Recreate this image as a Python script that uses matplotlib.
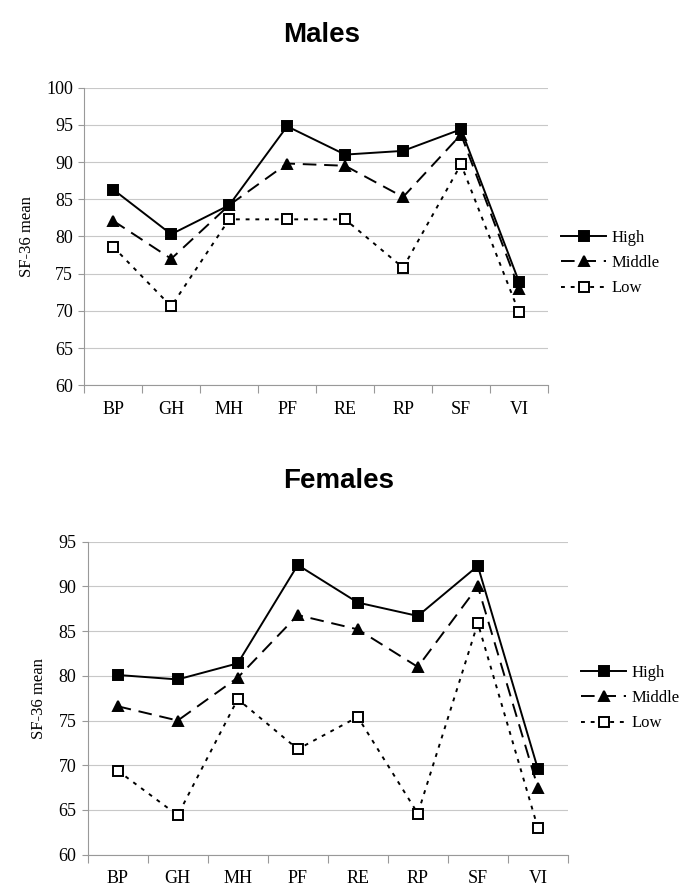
import matplotlib.pyplot as plt

categories = ['BP', 'GH', 'MH', 'PF', 'RE', 'RP', 'SF', 'VI']
groups = ['High', 'Middle', 'Low']

males_high = [86.3, 80.3, 84.2, 94.8, 91.0, 91.5, 94.4, 73.9]
males_middle = [82.1, 77.0, 84.2, 89.8, 89.5, 85.3, 93.7, 73.0]
males_low = [78.6, 70.6, 82.3, 82.3, 82.3, 75.8, 89.7, 69.8]

females_high = [80.1, 79.6, 81.4, 92.4, 88.2, 86.7, 92.3, 69.6]
females_middle = [76.6, 75.0, 79.8, 86.8, 85.2, 81.0, 90.0, 67.5]
females_low = [69.4, 64.4, 77.4, 71.8, 75.4, 64.6, 85.9, 63.0]

styles = {
    'High': dict(linestyle='-', marker='s', markerfacecolor='black', markersize=7),
    'Middle': dict(linestyle=(0, (7, 4)), marker='^', markerfacecolor='black', markersize=7),
    'Low': dict(linestyle=(0, (2, 3)), marker='s', markerfacecolor='white', markersize=7),
}

plt.rcParams['font.family'] = ['Liberation Serif', 'DejaVu Serif']


def draw_panel(fig, rect, title, title_xy, series, ylim, legend_y):
    ax = fig.add_axes(rect)
    x = list(range(len(categories)))
    for name, vals in zip(groups, series):
        ax.plot(x, vals, color='black', linewidth=1.4, markeredgecolor='black',
                markeredgewidth=1.4, label=name, **styles[name])
    ax.set_xlim(-0.5, len(categories) - 0.5)
    ax.set_ylim(*ylim)
    ax.set_yticks(range(ylim[0], ylim[1] + 1, 5))
    ax.yaxis.grid(True, color='#c8c8c8', linewidth=0.8)
    ax.set_axisbelow(True)
    ax.set_xticks(x)
    ax.set_xticklabels(categories, fontsize=13)
    ax.set_xticks([i - 0.5 for i in range(len(categories) + 1)], minor=True)
    ax.tick_params(axis='x', which='major', length=0, pad=11)
    ax.tick_params(axis='x', which='minor', length=6, color='#999999', width=0.8)
    ax.tick_params(axis='y', length=4, color='#999999', labelsize=13, pad=4)
    for s in ['top', 'right']:
        ax.spines[s].set_visible(False)
    for s in ['left', 'bottom']:
        ax.spines[s].set_color('#999999')
        ax.spines[s].set_linewidth(0.8)
    ax.set_ylabel('SF-36 mean', fontsize=12, labelpad=8)
    fig.text(title_xy[0], title_xy[1], title, ha='center', va='center', fontsize=20,
             fontweight='bold', family='Liberation Sans')
    ax.legend(loc='center left', bbox_to_anchor=(1.0, legend_y), frameon=False,
              fontsize=12, handlelength=2.7, handletextpad=0.3, labelspacing=0.55,
              borderaxespad=0.4)
    return ax


fig = plt.figure(figsize=(6.85, 8.94), dpi=100)

draw_panel(fig, [0.123, 0.569, 0.677, 0.333], 'Males', (0.469, 0.961),
           [males_high, males_middle, males_low], (60, 100), 0.41)
draw_panel(fig, [0.128, 0.044, 0.701, 0.350], 'Females', (0.495, 0.462),
           [females_high, females_middle, females_low], (60, 95), 0.5)

fig.savefig('out.png', dpi=100)
